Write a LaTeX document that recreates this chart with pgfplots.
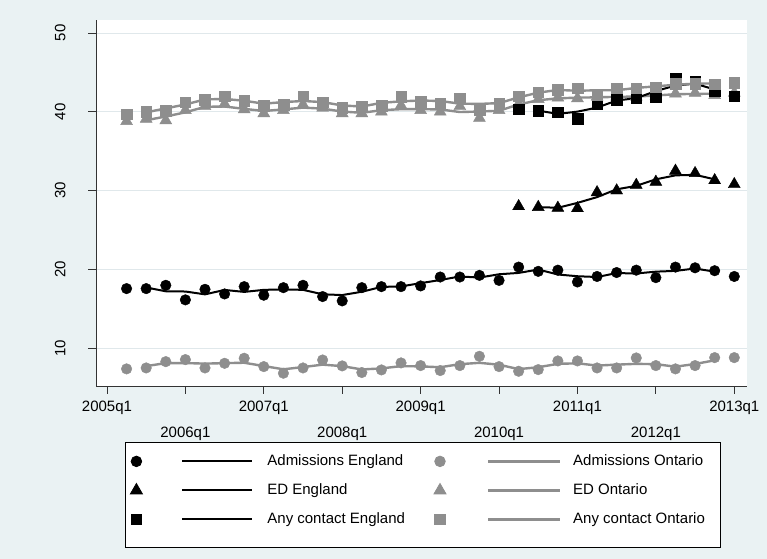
\documentclass[border=0pt]{standalone}
\usepackage{pgfplots}
\pgfplotsset{compat=1.18}
\usepackage{fontspec}
\setmainfont{Liberation Sans}
\definecolor{bg}{RGB}{234,242,243}
\definecolor{sgray}{RGB}{142,142,142}
\definecolor{gridc}{RGB}{224,232,235}
\pgfplotsset{
 leftmark/.style={legend image code/.code={\path[draw=none,fill=none] (-6bp,-1bp) rectangle (44bp,1bp); \draw[##1] plot coordinates {(0,0)};}},
 leftmarklast/.style={legend image code/.code={\path[draw=none,fill=none] (-6bp,-16bp) rectangle (44bp,1bp); \draw[##1] plot coordinates {(0,0)};}},
 rightmark/.style={legend image code/.code={\path[draw=none,fill=none] (-35bp,-1bp) rectangle (46bp,1bp); \draw[##1] plot coordinates {(0,0)};}},
 leftline/.style={legend image code/.code={\path[draw=none,fill=none] (0,-1bp) rectangle (85bp,1bp); \draw[##1] (0,0) -- (70bp,0);}},
 rightline/.style={legend image code/.code={\path[draw=none,fill=none] (0,-1bp) rectangle (85bp,1bp); \draw[##1] (0,0) -- (72bp,0);}},
}
\begin{document}
\begin{tikzpicture}[x=1bp,y=1bp]
\fill[bg] (0,0) rectangle (767,559);
\useasboundingbox (0,0) rectangle (767,559);
\begin{axis}[
 at={(96bp,173bp)}, anchor=south west,
 scale only axis, width=651bp, height=366bp,
 xmin=-0.56, xmax=32.65, ymin=5.2, ymax=51.65,
 axis x line*=bottom, axis y line*=left,
 axis line style={black!80, line width=0.8bp},
 axis background/.style={fill=white},
 tick align=outside, major tick length=8bp,
 tick style={black!80, line width=0.8bp},
 ytick={10,20,30,40,50},
 ymajorgrids, grid style={gridc, line width=0.8bp},
 xtick={0,8,16,24,32}, xticklabels={2005q1,2007q1,2009q1,2011q1,2013q1},
 extra x ticks={4,12,20,28}, extra x tick labels={2006q1,2008q1,2010q1,2012q1},
 extra x tick style={tick label style={yshift=-26bp}},
 ticklabel style={font=\fontsize{15bp}{18bp}\selectfont, text=black},
 xticklabel shift=4bp, yticklabel shift=19bp,
 /pgf/number format/assume math mode=true,
 yticklabel style={rotate=90, anchor=south},
 legend columns=4, legend cell align=left,
 legend style={at={(rel axis cs:0.04455,-0.15301)}, anchor=north west,
   draw=black, line width=0.8bp, fill=white, inner xsep=5bp, inner ysep=12bp,
   row sep=15bp, column sep=0pt, font=\fontsize{15bp}{18bp}\selectfont,
   nodes={inner sep=0pt, text height=11bp, text depth=3bp}},
]
% Admissions England
\addplot[only marks, mark=*, black, mark size=5.3bp, leftmark] coordinates {(1,17.56)(2,17.56)(3,17.98)(4,16.13)(5,17.47)(6,16.88)(7,17.81)(8,16.72)(9,17.68)(10,17.98)(11,16.55)(12,16.00)(13,17.68)(14,17.81)(15,17.81)(16,17.90)(17,19.03)(18,19.03)(19,19.24)(20,18.60)(21,20.29)(22,19.75)(23,19.90)(24,18.40)(25,19.10)(26,19.60)(27,19.90)(28,18.95)(29,20.29)(30,20.20)(31,19.83)(32,19.10)};
\addlegendentry{}
\addplot[black, line width=2bp, mark=none, leftline] coordinates {(2,17.70)(3,17.22)(4,17.19)(5,16.83)(6,17.39)(7,17.14)(8,17.40)(9,17.46)(10,17.40)(11,16.84)(12,16.74)(13,17.16)(14,17.77)(15,17.84)(16,18.25)(17,18.65)(18,19.10)(19,18.96)(20,19.38)(21,19.55)(22,19.98)(23,19.35)(24,19.13)(25,19.03)(26,19.53)(27,19.48)(28,19.71)(29,19.81)(30,20.11)(31,19.71)};
\addlegendentry{Admissions England}
% Admissions Ontario
\addplot[only marks, mark=*, sgray, mark size=5.3bp, rightmark] coordinates {(1,7.37)(2,7.49)(3,8.29)(4,8.55)(5,7.49)(6,8.08)(7,8.72)(8,7.66)(9,6.82)(10,7.49)(11,8.50)(12,7.75)(13,6.91)(14,7.24)(15,8.13)(16,7.79)(17,7.16)(18,7.79)(19,8.97)(20,7.66)(21,7.07)(22,7.28)(23,8.38)(24,8.38)(25,7.49)(26,7.49)(27,8.76)(28,7.79)(29,7.37)(30,7.79)(31,8.80)(32,8.80)};
\addlegendentry{}
\addplot[sgray, line width=2.4bp, mark=none, rightline] coordinates {(2,7.72)(3,8.11)(4,8.11)(5,8.04)(6,8.10)(7,8.15)(8,7.73)(9,7.32)(10,7.60)(11,7.91)(12,7.72)(13,7.30)(14,7.43)(15,7.72)(16,7.69)(17,7.58)(18,7.97)(19,8.14)(20,7.90)(21,7.34)(22,7.58)(23,8.01)(24,8.08)(25,7.79)(26,7.91)(27,8.01)(28,7.97)(29,7.65)(30,7.99)(31,8.46)};
\addlegendentry{Admissions Ontario}
% ED England
\addplot[only marks, mark=triangle*, black, mark size=6.9bp, leftmark] coordinates {(21,28.0)(22,27.9)(23,27.8)(24,27.75)(25,29.77)(26,30.0)(27,30.7)(28,31.1)(29,32.5)(30,32.2)(31,31.3)(32,30.8)};
\addlegendentry{}
\addplot[black, line width=2bp, mark=none, leftline] coordinates {(22,27.90)(23,27.82)(24,28.44)(25,29.17)(26,30.16)(27,30.60)(28,31.43)(29,31.93)(30,32.00)(31,31.43)};
\addlegendentry{ED England}
% ED Ontario
\addplot[only marks, mark=triangle*, sgray, mark size=6.9bp, rightmark] coordinates {(1,38.8)(2,39.1)(3,38.9)(4,40.2)(5,40.7)(6,41.0)(7,40.3)(8,39.8)(9,40.2)(10,40.9)(11,40.5)(12,39.8)(13,39.8)(14,40.0)(15,40.8)(16,40.2)(17,40.0)(18,40.7)(19,39.2)(20,40.2)(21,41.0)(22,41.6)(23,41.8)(24,41.7)(25,41.9)(26,41.9)(27,41.9)(28,42.0)(29,42.3)(30,42.4)(31,42.1)(32,42.4)};
\addlegendentry{}
\addplot[sgray, line width=2.4bp, mark=none, rightline] coordinates {(2,38.93)(3,39.40)(4,39.93)(5,40.63)(6,40.67)(7,40.37)(8,40.10)(9,40.30)(10,40.53)(11,40.40)(12,40.03)(13,39.87)(14,40.20)(15,40.33)(16,40.33)(17,40.30)(18,39.97)(19,40.03)(20,40.13)(21,40.93)(22,41.47)(23,41.70)(24,41.80)(25,41.83)(26,41.90)(27,41.93)(28,42.07)(29,42.23)(30,42.27)(31,42.30)};
\addlegendentry{ED Ontario}
% Any contact England
\addplot[only marks, mark=square*, black, mark size=5.3bp, leftmarklast] coordinates {(21,40.35)(22,40.15)(23,39.95)(24,39.1)(25,41.0)(26,41.5)(27,41.8)(28,41.9)(29,44.2)(30,43.9)(31,42.6)(32,42.0)};
\addlegendentry{}
\addplot[black, line width=2bp, mark=none, leftline] coordinates {(22,40.15)(23,39.73)(24,40.02)(25,40.53)(26,41.43)(27,41.73)(28,42.63)(29,43.33)(30,43.57)(31,42.83)};
\addlegendentry{Any contact England}
% Any contact Ontario
\addplot[only marks, mark=square*, sgray, mark size=5.3bp, rightmark] coordinates {(1,39.7)(2,40.0)(3,40.1)(4,41.2)(5,41.5)(6,42.0)(7,41.4)(8,40.8)(9,40.9)(10,42.0)(11,41.2)(12,40.5)(13,40.7)(14,40.8)(15,41.9)(16,41.3)(17,41.1)(18,41.7)(19,40.3)(20,41.0)(21,42.0)(22,42.5)(23,42.8)(24,43.0)(25,42.2)(26,43.0)(27,43.0)(28,43.1)(29,43.6)(30,43.6)(31,43.5)(32,43.7)};
\addlegendentry{}
\addplot[sgray, line width=2.4bp, mark=none, rightline] coordinates {(2,39.93)(3,40.43)(4,40.93)(5,41.57)(6,41.63)(7,41.40)(8,41.03)(9,41.23)(10,41.37)(11,41.23)(12,40.80)(13,40.67)(14,41.13)(15,41.33)(16,41.43)(17,41.37)(18,41.03)(19,41.00)(20,41.10)(21,41.83)(22,42.43)(23,42.77)(24,42.67)(25,42.73)(26,42.73)(27,43.03)(28,43.23)(29,43.43)(30,43.57)(31,43.60)};
\addlegendentry{Any contact Ontario\hspace*{10bp}}
\end{axis}
\end{tikzpicture}
\end{document}
